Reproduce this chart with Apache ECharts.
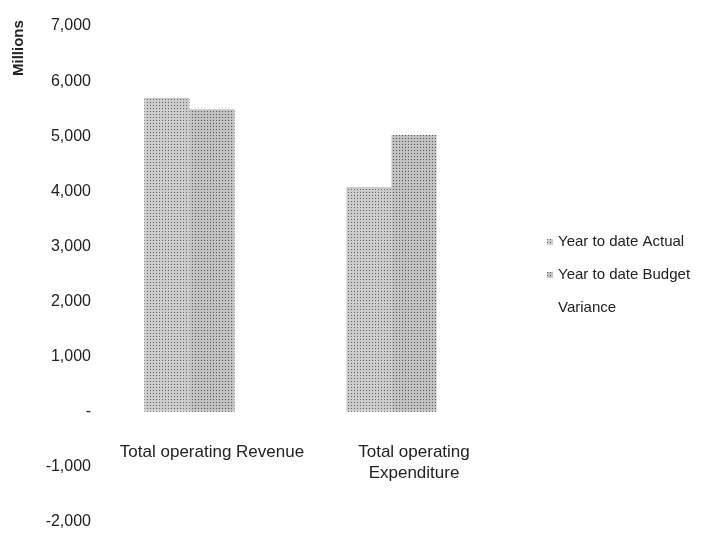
<!DOCTYPE html>
<html>
<head>
<meta charset="utf-8">
<script src="https://cdn.jsdelivr.net/npm/echarts@6/dist/echarts.min.js"></script>
<style>
  html, body { margin: 0; padding: 0; background: #ffffff; }
  #chart { width: 704px; height: 536px; }
</style>
</head>
<body>
<div id="chart"></div>
<script>
// Operating revenue and expenditure, year to date (Millions)
const categories = ['Total operating Revenue', 'Total operating\nExpenditure'];
const seriesNames = ['Year to date Actual', 'Year to date Budget', 'Variance'];
const actualValues = [5700, 4080];
const budgetValues = [5490, 5020];
const varianceValues = [210, 940];
const yTicks = { min: -2000, max: 7000, interval: 1000 };

const FONT = '"Liberation Sans Narrow", "Arial Narrow", "Liberation Sans", Arial, sans-serif';

const GRID = { left: 111, right: 189, top: 26, bottom: 14 };
const CHART_H = 536;
// category labels sit just below the zero line, so lift the axis from the grid bottom to y = 0
const plotH = CHART_H - GRID.top - GRID.bottom;
const zeroLift = plotH * (0 - yTicks.min) / (yTicks.max - yTicks.min);

// speckled grey fill used by the two visible series
function speckle(base, dot) {
  return {
    color: base,
    decal: {
      symbol: 'rect',
      symbolSize: 1,
      dashArrayX: [1, 2],
      dashArrayY: [1, 2],
      color: dot,
      rotation: 0
    }
  };
}

const chart = echarts.init(document.getElementById('chart'), null, { renderer: 'canvas' });

chart.setOption({
  animation: false,
  backgroundColor: '#ffffff',
  aria: { enabled: false },
  textStyle: { fontFamily: FONT },
  grid: Object.assign({ containLabel: false, outerBoundsMode: 'none' }, GRID),
  legend: {
    orient: 'vertical',
    left: 542,
    top: 229,
    itemGap: 17,
    itemWidth: 6,
    itemHeight: 6,
    icon: 'rect',
    textStyle: { fontFamily: FONT, fontSize: 15, lineHeight: 16, color: '#222' },
    data: seriesNames
  },
  graphic: [{
    type: 'text',
    x: 19,
    y: 76,
    rotation: Math.PI / 2,
    style: {
      text: 'Millions',
      font: 'bold 15px "Liberation Sans", Arial, sans-serif',
      fill: '#222',
      textAlign: 'left',
      textVerticalAlign: 'middle'
    }
  }],
  xAxis: {
    type: 'category',
    data: categories,
    offset: -zeroLift,
    axisLine: { show: false, onZero: false },
    axisTick: { show: false },
    axisLabel: {
      margin: 30,
      interval: 0,
      fontFamily: FONT,
      fontSize: 17,
      color: '#222',
      lineHeight: 21
    }
  },
  yAxis: {
    type: 'value',
    min: yTicks.min,
    max: yTicks.max,
    interval: yTicks.interval,
    splitLine: { show: false },
    axisLine: { show: false },
    axisTick: { show: false },
    axisLabel: {
      margin: 20,
      fontFamily: FONT,
      fontSize: 16,
      color: '#222',
      formatter: v => v === 0 ? '-' : v.toLocaleString('en-US')
    }
  },
  series: [
    {
      name: seriesNames[0],
      type: 'bar',
      data: actualValues,
      barGap: '0%',
      barCategoryGap: '33%',
      itemStyle: speckle('#cccccc', 'rgba(50,50,50,0.7)')
    },
    {
      name: seriesNames[1],
      type: 'bar',
      data: budgetValues,
      itemStyle: speckle('#c2c2c2', 'rgba(40,40,40,0.7)')
    },
    {
      name: seriesNames[2],
      type: 'bar',
      data: varianceValues,
      itemStyle: { color: 'rgba(255,255,255,0)' }
    }
  ]
});
</script>
</body>
</html>
